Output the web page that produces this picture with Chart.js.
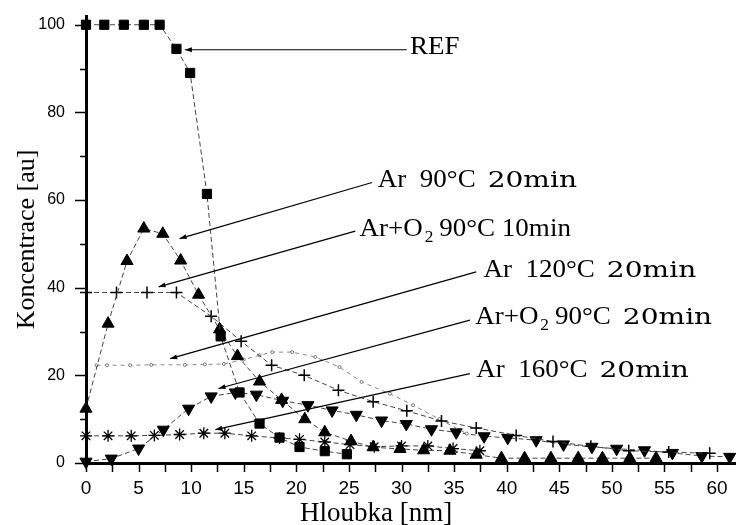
<!DOCTYPE html>
<html>
<head>
<meta charset="utf-8">
<title>Koncentrace - hloubka</title>
<script src="https://cdn.jsdelivr.net/npm/chart.js@4"></script>
<style>
  body { margin: 0; background: #fff; }
  #wrap { width: 736px; height: 525px; }
</style>
</head>
<body>
<div id="wrap"><canvas id="chart"></canvas></div>
<script>
// depth [nm] / concentration [au]
const refX = [0, 1.74, 3.6, 5.5, 7.0, 8.6, 9.9, 11.5, 12.8, 14.6, 16.5, 18.4, 20.3, 22.7, 24.8];
const refY = [100, 100, 100, 100, 100, 94.5, 89, 61.4, 28.9, 16.1, 9.0, 5.8, 3.65, 2.7, 2.0];

const ar90X = [0, 2.1, 3.9, 5.5, 7.3, 9.0, 10.7, 12.7, 14.4, 16.5, 18.6, 20.8, 22.7, 25.2, 27.3, 29.85, 32.1, 34.6, 37.1, 39.5, 41.7, 44.2, 46.8, 49.1, 51.7, 54.2];
const ar90Y = [12.4, 31.8, 46.1, 53.5, 52.3, 46.2, 38.4, 30.5, 24.4, 18.6, 14.4, 10.0, 7.0, 5.0, 3.6, 3.2, 2.9, 2.8, 1.9, 1.1, 1.1, 1.1, 1.1, 1.1, 1.1, 1.1];

const o2_10X = [0, 2.9, 5.8, 8.6, 11.9, 14.75, 17.65, 20.75, 24.0, 27.3, 30.5, 33.8, 37.1, 40.9, 44.4, 48.0, 51.6, 55.4, 59.3];
const o2_10Y = [38.9, 38.9, 38.9, 38.9, 33.5, 27.8, 22.3, 20.0, 16.6, 14.0, 11.9, 9.6, 8.0, 6.3, 4.9, 3.8, 2.8, 2.5, 2.2];

const ar120X = [1.0, 2.0, 4.2, 6.2, 9.4, 11.3, 13.1, 15.0, 16.5, 17.7, 19.6, 21.8, 24.1, 26.2, 28.9, 31.1, 33.6, 36.2];
const ar120Y = [22.3, 22.3, 22.3, 22.4, 22.4, 22.5, 22.6, 23.6, 24.6, 25.3, 25.3, 24.2, 21.9, 18.5, 15.8, 13.2, 10.0, 6.7];

const o2_20X = [0, 2.4, 5.0, 7.35, 9.75, 11.9, 14.2, 16.2, 18.7, 21.1, 23.4, 25.7, 28.1, 30.45, 32.85, 35.2, 37.85, 40.1, 42.8, 45.4, 48.1, 50.45, 53.1, 55.75, 58.55, 61.2];
const o2_20Y = [0.3, 1.0, 3.3, 7.6, 12.4, 15.2, 16.1, 15.6, 14.2, 13.2, 12.0, 11.0, 9.7, 8.9, 7.7, 7.0, 6.1, 5.75, 5.2, 4.25, 3.7, 3.25, 2.9, 2.3, 1.6, 1.4];

const ar160X = [0, 2.1, 4.3, 6.5, 8.9, 11.2, 13.2, 15.75, 18.4, 20.3, 22.7, 25.1, 27.4, 30.0, 32.5, 34.9, 37.45];
const ar160Y = [6.2, 6.2, 6.2, 6.3, 6.5, 6.8, 6.8, 6.2, 5.7, 5.4, 4.8, 4.2, 3.7, 3.9, 3.9, 3.3, 2.8];

const xTickLabels = [0, 5, 10, 15, 20, 25, 30, 35, 40, 45, 50, 55, 60];
const yTickLabels = [0, 20, 40, 60, 80, 100];

// callout texts; "sub" = subscript, "big" = the wider 20min lettering
const calloutText = [
  [{ t: 'REF' }],
  [{ t: 'Ar  90°C' }, { t: '20min', big: true }],
  [{ t: 'Ar+O' }, { t: '2', sub: true }, { t: '90°C 10min' }],
  [{ t: 'Ar  120°C' }, { t: '20min', big: true }],
  [{ t: 'Ar+O' }, { t: '2', sub: true }, { t: '90°C' }, { t: '20min', big: true }],
  [{ t: 'Ar  160°C' }, { t: '20min', big: true }]
];
// where each callout points (tip), where its leader ends and where its text sits, in axis units
const calloutPos = [
  { tip: [9.4, 94.3], end: [30.5, 94.3], at: [30.8, 93.4] },
  { tip: [8.9, 51.2], end: [27.2, 64.0], at: [27.75, 62.9] },
  { tip: [6.9, 40.2], end: [25.6, 52.9], at: [26.0, 51.9] },
  { tip: [8.0, 23.8], end: [37.1, 43.6], at: [37.8, 42.4] },
  { tip: [12.6, 17.0], end: [36.5, 32.6], at: [37.0, 31.8] },
  { tip: [12.3, 7.6], end: [36.5, 20.4], at: [37.1, 19.6] }
];

const pts = (xs, ys) => xs.map((x, i) => ({ x: x, y: ys[i] }));

function series(label, xs, ys, style, radius, extra) {
  return Object.assign({
    label: label,
    data: pts(xs, ys),
    borderColor: '#444',
    borderWidth: 1,
    borderDash: [5, 3],
    pointStyle: style,
    pointRadius: radius,
    pointHoverRadius: radius,
    pointBackgroundColor: '#000',
    pointBorderColor: '#000',
    pointBorderWidth: 1,
    tension: 0,
    clip: false
  }, extra || {});
}

const frame = {
  id: 'frame',
  beforeDraw(chart) {
    const ctx = chart.ctx;
    ctx.save();
    ctx.fillStyle = '#fff';
    ctx.fillRect(0, 0, chart.width, chart.height);
    ctx.restore();
  },
  afterDraw(chart) {
    const { ctx, chartArea: a, scales: { x, y } } = chart;
    ctx.save();
    ctx.strokeStyle = '#000';
    ctx.lineWidth = 1.5;
    ctx.beginPath();
    x.ticks.forEach(t => {
      const px = Math.round(x.getPixelForValue(t.value)) + 0.5;
      ctx.moveTo(px, a.bottom);
      ctx.lineTo(px, a.bottom + 9);
    });
    y.ticks.forEach(t => {
      const py = Math.round(y.getPixelForValue(t.value)) + 0.5;
      const len = yTickLabels.includes(t.value) ? 11 : 6;
      ctx.moveTo(a.left - len, py);
      ctx.lineTo(a.left, py);
    });
    ctx.stroke();

    // callouts
    ctx.fillStyle = '#000';
    ctx.lineWidth = 1.2;
    calloutPos.forEach((c, i) => {
      const tx = x.getPixelForValue(c.tip[0]), ty = y.getPixelForValue(c.tip[1]);
      const ex = x.getPixelForValue(c.end[0]), ey = y.getPixelForValue(c.end[1]);
      ctx.beginPath();
      ctx.moveTo(tx, ty);
      ctx.lineTo(ex, ey);
      ctx.stroke();
      const ang = Math.atan2(ey - ty, ex - tx);
      ctx.beginPath();
      ctx.moveTo(tx, ty);
      ctx.lineTo(tx + 7 * Math.cos(ang) - 2.5 * Math.sin(ang), ty + 7 * Math.sin(ang) + 2.5 * Math.cos(ang));
      ctx.lineTo(tx + 7 * Math.cos(ang) + 2.5 * Math.sin(ang), ty + 7 * Math.sin(ang) - 2.5 * Math.cos(ang));
      ctx.closePath();
      ctx.fill();

      let cx = x.getPixelForValue(c.at[0]);
      const base = y.getPixelForValue(c.at[1]);
      ctx.textBaseline = 'alphabetic';
      ctx.textAlign = 'left';
      calloutText[i].forEach((s, k) => {
        let font = '25px "Liberation Serif"', sx = 1.08, dy = 0, gap = k > 0 ? 7 : 0;
        if (s.sub) { font = '16px "Liberation Serif"'; dy = 6; gap = 2; }
        if (s.big) { font = '23px "DejaVu Serif"'; sx = 1.22; gap = 12; }
        if (k > 0 && calloutText[i][k - 1].sub) gap = 6;
        cx += gap;
        ctx.font = font;
        ctx.save();
        ctx.translate(cx, base + dy);
        ctx.scale(sx, 1);
        ctx.fillText(s.t, 0, 0);
        ctx.restore();
        cx += ctx.measureText(s.t).width * sx;
      });
    });

    // x axis title
    ctx.font = '27px "Liberation Serif"';
    ctx.textAlign = 'left';
    ctx.textBaseline = 'alphabetic';
    ctx.fillText('Hloubka [nm]', a.left + 214, a.bottom + 58);
    ctx.restore();
  }
};

new Chart(document.getElementById('chart'), {
  type: 'line',
  data: {
    datasets: [
      series('REF', refX, refY, 'rect', 6.5),
      series('Ar 90°C 20min', ar90X, ar90Y, 'triangle', 7),
      series('Ar+O2 90°C 10min', o2_10X, o2_10Y, 'cross', 6, { pointBorderWidth: 1.5 }),
      series('Ar 120°C 20min', ar120X, ar120Y, 'circle', 1.5, {
        borderColor: '#888', borderDash: [4, 4], pointBackgroundColor: '#fff', pointBorderColor: '#777'
      }),
      series('Ar+O2 90°C 20min', o2_20X, o2_20Y, 'triangle', 7, { pointRotation: 180 }),
      series('Ar 160°C 20min', ar160X, ar160Y, 'star', 6, { pointBorderWidth: 1.3 })
    ]
  },
  options: {
    responsive: true,
    maintainAspectRatio: false,
    animation: false,
    layout: { autoPadding: false, padding: { top: 16, right: 0, left: 0, bottom: 0 } },
    plugins: { legend: { display: false }, tooltip: { enabled: false } },
    scales: {
      x: {
        type: 'linear',
        min: 0,
        max: 61.8,
        afterFit(scale) {
          scale.height = 62;
          scale.paddingLeft = 0;
          scale.paddingRight = 0;
        },
        border: { display: true, color: '#000', width: 3 },
        grid: { drawOnChartArea: false, tickLength: 9, tickColor: 'rgba(0,0,0,0)' },
        ticks: {
          stepSize: 2.5,
          includeBounds: false,
          autoSkip: false,
          maxRotation: 0,
          padding: 5,
          color: '#000',
          font: { family: 'Liberation Sans', size: 19 },
          callback: v => xTickLabels.includes(v) ? String(v) : ''
        }
      },
      y: {
        min: 0,
        max: 102,
        afterFit(scale) {
          scale.width = 86;
          scale.paddingTop = 0;
          scale.paddingBottom = 0;
        },
        border: { display: true, color: '#000', width: 3 },
        grid: { drawOnChartArea: false, tickLength: 11, tickColor: 'rgba(0,0,0,0)' },
        title: {
          display: true,
          text: 'Koncentrace [au]',
          color: '#000',
          font: { family: 'Liberation Serif', size: 26 },
          padding: { top: 12, bottom: 0 }
        },
        ticks: {
          stepSize: 10,
          includeBounds: false,
          padding: 10,
          color: '#000',
          font: { family: 'Liberation Sans', size: 16 },
          callback: v => yTickLabels.includes(v) ? String(v) : ''
        }
      }
    }
  },
  plugins: [frame]
});
</script>
</body>
</html>
